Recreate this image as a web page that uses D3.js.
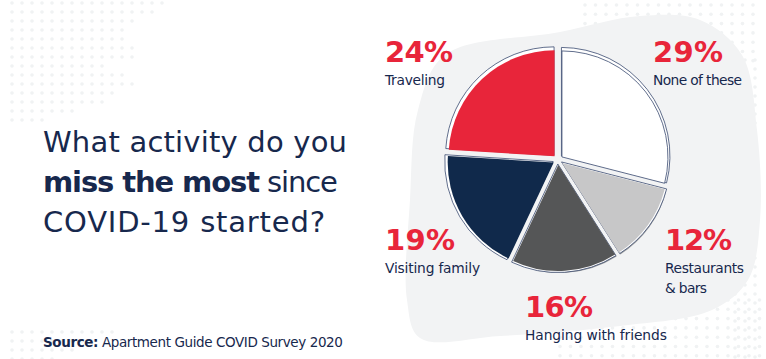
<!DOCTYPE html>
<html><head><meta charset="utf-8">
<script src="https://cdn.jsdelivr.net/npm/d3@7"></script>
<style>body{margin:0;background:#fff}svg{display:block}</style>
</head><body><svg id="c" width="766" height="359"></svg>
<script>
const categories = ["None of these","Restaurants & bars","Hanging with friends","Visiting family","Traveling"];
const values = [29,12,16,19,24];
const colors = ["#ffffff","#c7c7c8","#555657","#10294b","#e8253a"];
const labelLines = [["None of these"],["Restaurants","& bars"],["Hanging with friends"],["Visiting family"],["Traveling"]];
const labelWidths = [[89],[79,42],[142],[95],[60]];
const pctWidths = [70,67,68,70,68];
const labelPos = [[653,62],[665,250],[525,317],[385,250],[385,62]];
const titleLines = [[["What activity do you",400]],[["miss the most",700],[" since",400]],[["COVID-19 started?",400]]];
const titleWidths = [304,295,282];
const navy = "#17284d", red = "#e8253a";
const svg = d3.select("#c");
const font = "'DejaVu Sans', sans-serif";

function fit(sel, w){
  const node = sel.node();
  const n = node.textContent.length;
  const len = node.getComputedTextLength();
  if(n>1) sel.attr("letter-spacing", ((w-len)/(n-1)).toFixed(2));
}

// dot pattern decoration
const dotG = svg.append("g").attr("fill","#f0f2f3");
const tlCounts = [16,15,13,12,12,13,13,10,12,13,11,10,7,4];
tlCounts.forEach((n,i)=>{ for(let j=0;j<n;j++) dotG.append("circle").attr("cx",12+10*j).attr("cy",3+9*i).attr("r",1.8); });
for(let i=0;i<4;i++) for(let j=0;j<11-i*2;j++) dotG.append("circle").attr("cx",12+10*j).attr("cy",332+9*i).attr("r",1.8);
for(let i=0;i<7;i++) for(let j=0;j<19;j++){ const x=585+10.5*j, y=5+9.3*i; if(x>760) continue; dotG.append("circle").attr("cx",x).attr("cy",y).attr("r",1.8);} 
for(let i=0;i<40;i++) for(let j=0;j<4;j++){ const x=735+10*j, y=60+9*i; if(y>359||x>764) continue; dotG.append("circle").attr("cx",x).attr("cy",y).attr("r",1.8);} 
for(let i=0;i<7;i++) for(let j=0;j<20;j++){ const x=560+10.5*j, y=300+9.3*i; if(x>764) continue; dotG.append("circle").attr("cx",x).attr("cy",y).attr("r",1.8);} 

// background blob
const blobPts = [[445,55],[560,32],[640,16],[700,20],[742,55],[757,130],[760,220],[748,280],[712,310],[620,326],[500,336],[420,338],[407,300],[410,200],[418,110]];
svg.append("path").attr("d", d3.line().curve(d3.curveCatmullRomClosed.alpha(0.5))(blobPts)).attr("fill","#f2f3f4");

// title
titleLines.forEach((line,i)=>{
  const t = svg.append("text").attr("x",43).attr("y",152+40*i).attr("font-family",font).attr("font-size",29).attr("fill",navy);
  line.forEach(([s,w])=>{ t.append("tspan").text(s).attr("font-weight",w); });
  fit(t, titleWidths[i]);
});
// source
const src = svg.append("text").attr("x",43).attr("y",347).attr("font-family",font).attr("font-size",13.5).attr("fill",navy);
src.append("tspan").text("Source:").attr("font-weight",700);
src.append("tspan").text(" Apartment Guide COVID Survey 2020");
fit(src, 300);

// pie
const cx=558, cy=160, r=106, off=5;
const pie = d3.pie().sort(null).value(d=>d)(values);
const arc = d3.arc().innerRadius(0).outerRadius(r);
const arcO = d3.arc().innerRadius(0).outerRadius(r+2.5);
const g = svg.append("g").attr("transform",`translate(${cx},${cy})`);
pie.forEach((p,i)=>{
  const mid=(p.startAngle+p.endAngle)/2;
  const dx=Math.sin(mid)*off, dy=-Math.cos(mid)*off;
  const sg=g.append("g").attr("transform",`translate(${dx},${dy})`);
  if(i===1||i===2) sg.append("path").attr("d",arc(p)).attr("fill","#9a9b9c").attr("transform","translate(1.5,2)");
  sg.append("path").attr("d",arcO(p)).attr("fill","#ffffff").attr("stroke","#3a4a70").attr("stroke-width",0.8).attr("transform","translate(-0.5,-1)");
  sg.append("path").attr("d",arc(p)).attr("fill",colors[i]).attr("stroke",i===0?"#3a4a70":"none").attr("stroke-width",0.8);
});

// labels
pie.forEach((p,i)=>{
  const [x,y]=labelPos[i];
  const pt = svg.append("text").attr("x",x).attr("y",y).attr("font-family",font).attr("font-weight",700).attr("font-size",29).attr("fill",red).text(values[i]+"%");
  fit(pt, pctWidths[i]);
  labelLines[i].forEach((s,k)=>{
    const lt = svg.append("text").attr("x",x).attr("y",y+23+20*k).attr("font-family",font).attr("font-size",13.8).attr("fill",navy).text(s);
    fit(lt, labelWidths[i][k]);
  });
});
</script></body></html>
